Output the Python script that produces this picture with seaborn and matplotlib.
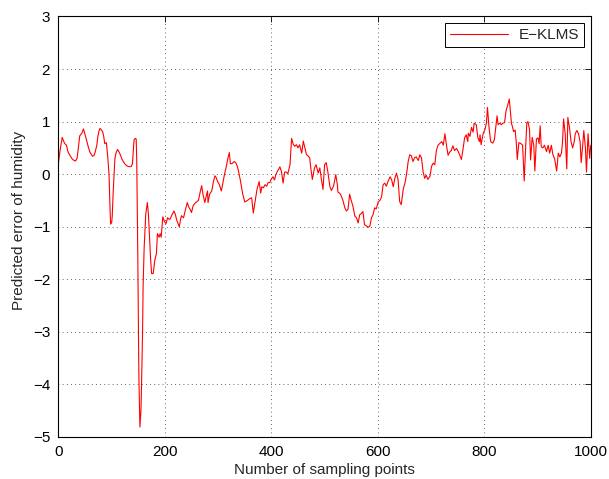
import matplotlib
matplotlib.use("Agg")
import matplotlib.pyplot as plt
import seaborn as sns
import pandas as pd

# Sampling point index and prediction error of humidity (E-KLMS)
sample_idx = [
    0, 3, 7, 10, 12, 15, 18, 22, 25, 28, 32, 35, 38, 40, 44, 47, 50, 53, 56, 59,
    62, 64, 67, 69, 72, 74, 76, 78, 80, 83, 85, 87, 90, 92, 95, 97, 98, 100, 101, 103,
    106, 108, 111, 114, 117, 119, 123, 126, 130, 134, 137, 139, 141, 142, 144, 146, 147, 149, 151, 153,
    155, 156, 158, 159, 161, 164, 167, 169, 171, 173, 175, 178, 181, 184, 186, 189, 191, 193, 196, 199,
    202, 205, 208, 210, 213, 217, 220, 222, 225, 227, 229, 231, 235, 238, 242, 245, 248, 250, 253, 256,
    258, 263, 266, 269, 272, 275, 278, 280, 281, 284, 288, 291, 294, 296, 299, 302, 306, 309, 312, 315,
    318, 321, 323, 326, 330, 333, 336, 338, 342, 346, 350, 355, 360, 363, 366, 369, 373, 377, 380, 382,
    385, 388, 391, 394, 397, 400, 403, 406, 408, 411, 413, 416, 419, 422, 425, 428, 431, 435, 438, 441,
    444, 447, 450, 453, 457, 460, 463, 466, 469, 472, 474, 477, 481, 484, 488, 491, 494, 497, 500, 503,
    506, 510, 513, 517, 521, 524, 525, 529, 532, 535, 538, 541, 544, 547, 550, 553, 557, 560, 563, 566,
    569, 572, 575, 579, 582, 585, 588, 591, 594, 597, 601, 604, 607, 610, 613, 616, 619, 623, 626, 629,
    632, 635, 638, 641, 644, 648, 651, 654, 657, 660, 663, 666, 669, 672, 676, 679, 682, 685, 688, 691,
    694, 698, 701, 704, 707, 710, 713, 716, 720, 723, 726, 729, 732, 735, 738, 741, 744, 748, 752, 757,
    760, 763, 766, 769, 770, 773, 776, 779, 781, 785, 788, 791, 792, 794, 798, 801, 804, 806, 809, 812,
    816, 819, 822, 824, 826, 829, 832, 835, 838, 841, 845, 847, 849, 851, 853, 855, 858, 860, 862, 865,
    869, 872, 875, 878, 880, 882, 885, 887, 890, 893, 895, 898, 901, 903, 905, 907, 910, 913, 917, 920,
    923, 926, 929, 932, 936, 939, 942, 945, 947, 949, 952, 955, 957, 960, 963, 966, 969, 971, 974, 977,
    980, 982, 985, 987, 990, 992, 995, 998, 1000,
]
pred_error = [
    0.22, 0.45, 0.70, 0.62, 0.58, 0.55, 0.42, 0.35, 0.30, 0.27, 0.25, 0.30, 0.55, 0.73, 0.78, 0.86, 0.75, 0.64, 0.52, 0.42,
    0.37, 0.34, 0.36, 0.42, 0.55, 0.71, 0.82, 0.87, 0.85, 0.81, 0.72, 0.58, 0.60, 0.40, 0.00, -0.70, -0.95, -0.92, -0.80, -0.30,
    0.29, 0.40, 0.47, 0.42, 0.35, 0.29, 0.22, 0.18, 0.15, 0.14, 0.15, 0.20, 0.50, 0.65, 0.68, 0.67, 0.30, -1.50, -3.80, -4.81,
    -4.50, -4.05, -3.00, -2.14, -1.40, -0.76, -0.54, -0.76, -1.20, -1.60, -1.89, -1.89, -1.64, -1.51, -1.13, -1.20, -1.13, -1.20, -0.81, -0.90,
    -0.94, -0.83, -0.86, -0.85, -0.78, -0.70, -0.78, -0.87, -0.95, -1.00, -0.88, -0.79, -0.83, -0.70, -0.54, -0.63, -0.68, -0.73, -0.60, -0.56,
    -0.54, -0.50, -0.35, -0.22, -0.41, -0.54, -0.40, -0.32, -0.54, -0.38, -0.32, -0.15, -0.03, -0.06, -0.14, -0.19, -0.32, -0.16, 0.00, 0.13,
    0.29, 0.41, 0.20, 0.20, 0.24, 0.22, 0.15, 0.07, -0.13, -0.37, -0.53, -0.50, -0.46, -0.45, -0.74, -0.55, -0.29, -0.14, -0.36, -0.24,
    -0.26, -0.20, -0.23, -0.16, -0.16, -0.09, -0.05, -0.11, -0.02, 0.05, 0.08, 0.14, 0.05, -0.17, 0.04, 0.04, 0.01, 0.18, 0.68, 0.57,
    0.53, 0.56, 0.50, 0.56, 0.40, 0.63, 0.50, 0.37, 0.35, 0.31, 0.12, -0.10, 0.12, 0.18, 0.02, 0.12, -0.10, -0.29, 0.18, 0.22,
    0.05, -0.24, -0.31, -0.22, -0.01, -0.20, -0.34, -0.37, -0.43, -0.52, -0.64, -0.70, -0.67, -0.38, -0.50, -0.60, -0.80, -0.83, -0.93, -0.77,
    -0.75, -0.71, -0.96, -0.99, -1.01, -0.99, -0.83, -0.77, -0.64, -0.66, -0.52, -0.50, -0.43, -0.20, -0.17, -0.23, -0.14, -0.05, -0.11, -0.24,
    -0.08, 0.02, -0.10, -0.52, -0.58, -0.27, -0.17, 0.00, 0.24, 0.37, 0.35, 0.24, 0.31, 0.33, 0.26, 0.37, 0.31, 0.05, -0.08, -0.02,
    -0.10, -0.04, 0.15, 0.21, 0.18, 0.45, 0.55, 0.58, 0.62, 0.55, 0.77, 0.55, 0.36, 0.42, 0.45, 0.54, 0.45, 0.49, 0.41, 0.28,
    0.47, 0.69, 0.75, 0.62, 0.78, 0.72, 0.89, 0.80, 0.97, 0.94, 0.69, 0.62, 0.75, 0.56, 0.78, 0.84, 0.97, 1.27, 0.88, 0.62,
    0.59, 0.66, 0.94, 1.11, 0.94, 0.97, 0.94, 0.97, 0.98, 1.21, 1.35, 1.43, 1.21, 0.97, 0.90, 0.81, 0.84, 0.62, 0.28, 0.60,
    0.58, 0.55, -0.13, 0.58, 0.98, 1.00, 0.85, 0.27, 0.70, 0.55, 0.06, 0.67, 0.69, 0.58, 0.92, 0.52, 0.50, 0.55, 0.43, 0.55,
    0.40, 0.55, 0.37, 0.30, 0.06, 0.40, 0.33, 0.40, 0.61, 1.05, 0.77, 0.10, 1.08, 0.89, 0.62, 0.50, 0.62, 0.77, 0.83, 0.77,
    0.62, 0.22, 0.56, 0.83, 0.50, 0.04, 0.77, 0.30, 0.55,
]

x_ticks = [0, 200, 400, 600, 800, 1000]
y_ticks = [-5, -4, -3, -2, -1, 0, 1, 2, 3]
series_name = "E\u2212KLMS"

df = pd.DataFrame({"x": sample_idx, "y": pred_error, "series": series_name})

sns.set_style("white")
plt.rcParams["font.family"] = ["Liberation Sans", "DejaVu Sans"]
plt.rcParams["axes.unicode_minus"] = True

FS = 11

fig = plt.figure(figsize=(6.09, 4.79), dpi=100)
ax = fig.add_axes([0.096, 0.0877, 0.874, 0.8779])

sns.lineplot(data=df, x="x", y="y", hue="series", palette=["#ff0000"],
             linewidth=0.8, ax=ax, sort=False, estimator=None)

ax.set_xlim(0, 1000)
ax.set_ylim(-5, 3)
ax.set_xticks(x_ticks)
ax.set_yticks(y_ticks)
ax.set_xticklabels([str(v) for v in x_ticks], fontsize=FS)
ax.set_yticklabels([str(v).replace("-", "\u2212") for v in y_ticks], fontsize=FS)
ax.set_xlabel("Number of sampling points", fontsize=FS, labelpad=3)
ax.set_ylabel("Predicted error of humidity", fontsize=FS)
ax.yaxis.set_label_coords(-0.061, 0.515)

ax.grid(True, linestyle=(0, (1, 4)), color="#333333", linewidth=0.6)
ax.tick_params(direction="in", length=4, width=0.6, top=True, right=True,
               colors="black")
ax.tick_params(axis="x", pad=6)
ax.tick_params(axis="y", pad=6)
for sp in ax.spines.values():
    sp.set_visible(True)
    sp.set_color("black")
    sp.set_linewidth(0.8)

leg = ax.legend(loc="upper right", fontsize=FS, frameon=True, fancybox=False,
                handlelength=3.8, borderpad=0.3, borderaxespad=0.45,
                handletextpad=0.7)
leg.get_frame().set_edgecolor("black")
leg.get_frame().set_linewidth(0.7)
leg.get_frame().set_alpha(1)

fig.savefig("out.png", dpi=100)
